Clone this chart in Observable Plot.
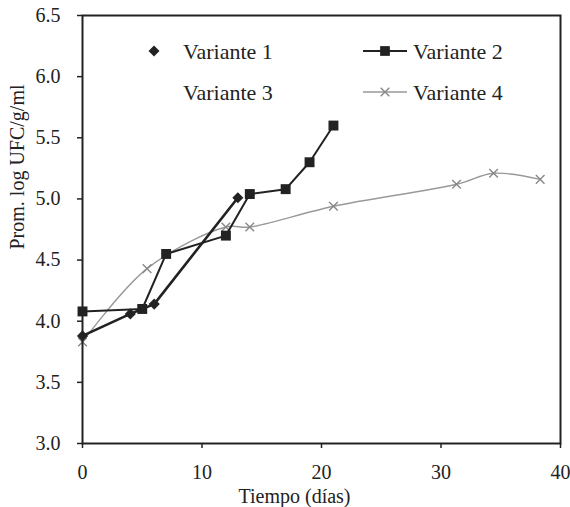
<!DOCTYPE html>
<html>
<head>
<meta charset="utf-8">
<script src="https://cdn.jsdelivr.net/npm/d3@7"></script>
<script src="https://cdn.jsdelivr.net/npm/@observablehq/plot@0.6"></script>
<style>
  body { margin: 0; background: #fff; }
  #wrap { position: relative; width: 570px; height: 507px; font-family: "Liberation Serif", serif; }
  #wrap svg, #wrap svg text { font-family: "Liberation Serif", serif !important; }
  #legend { position: absolute; left: 0; top: 0; }
</style>
</head>
<body>
<div id="wrap"></div>
<script>
// ---- data ----
const seriesNames = ["Variante 1", "Variante 2", "Variante 3", "Variante 4"];
const v1Days = [0, 4, 6, 13];
const v1Vals = [3.88, 4.06, 4.14, 5.01];
const v2Days = [0, 5, 7, 12, 14, 17, 19, 21];
const v2Vals = [4.08, 4.10, 4.55, 4.70, 5.04, 5.08, 5.30, 5.60];
const v4Days = [0, 5.4, 12, 14, 21, 31.3, 34.4, 38.3];
const v4Vals = [3.83, 4.43, 4.77, 4.77, 4.94, 5.12, 5.21, 5.16];
const xTicks = [0, 10, 20, 30, 40];
const yTicks = [3.0, 3.5, 4.0, 4.5, 5.0, 5.5, 6.0, 6.5];
const xLabel = "Tiempo (días)";
const yLabel = "Prom. log UFC/g/ml";

const toRows = (days, vals) => days.map((d, i) => ({x: d, y: vals[i]}));
const v1 = toRows(v1Days, v1Vals);
const v2 = toRows(v2Days, v2Vals);
const v4 = toRows(v4Days, v4Vals);

const font = "Liberation Serif";

const chart = Plot.plot({
  width: 570,
  height: 507,
  marginLeft: 82,
  marginRight: 10,
  marginTop: 15,
  marginBottom: 64,
  style: {fontFamily: font, fontSize: "20px", color: "#222", background: "#fff"},
  x: {domain: [0, 40]},
  y: {domain: [3, 6.5]},
  marks: [
    Plot.axisX({ticks: xTicks, tickSize: 5, tickPadding: 16, label: null, stroke: "#222", strokeWidth: 1.5, fontSize: 20}),
    Plot.axisY({ticks: yTicks, tickSize: 5, tickPadding: 17, tickFormat: d3.format(".1f"), label: null, stroke: "#222", strokeWidth: 1.5, fontSize: 20}),
    Plot.line(v4, {x: "x", y: "y", stroke: "#999", strokeWidth: 1.4, curve: "catmull-rom"}),
    Plot.dot(v4, {x: "x", y: "y", symbol: "times", r: 4, stroke: "#888", strokeWidth: 1.4}),
    Plot.line(v2, {x: "x", y: "y", stroke: "#222", strokeWidth: 2}),
    Plot.dot(v2, {x: "x", y: "y", symbol: "square", r: 5.6, fill: "#222"}),
    Plot.line(v1, {x: "x", y: "y", stroke: "#222", strokeWidth: 2.6}),
    Plot.dot(v1, {x: "x", y: "y", symbol: "diamond2", r: 5, fill: "#222"}),
    Plot.frame({stroke: "#222", strokeWidth: 2}),
    Plot.text([xLabel], {frameAnchor: "bottom", dx: -27, dy: 53, lineAnchor: "middle", fontSize: 20, fill: "#222"}),
    Plot.text([yLabel], {frameAnchor: "left", dx: -65, dy: 20, rotate: -90, lineAnchor: "middle", fontSize: 20, fill: "#222"})
  ]
});
document.getElementById("wrap").appendChild(chart);

// ---- legend overlay (inside the plot frame, as in the reference) ----
const legendLayout = [
  {name: seriesNames[0], tx: 183, ty: 51, sym: "diamond", mx: 154, line: false},
  {name: seriesNames[1], tx: 413, ty: 51, sym: "square", mx: 385, line: true, stroke: "#222", sw: 2},
  {name: seriesNames[2], tx: 183, ty: 92, sym: null},
  {name: seriesNames[3], tx: 413, ty: 92, sym: "times", mx: 385, line: true, stroke: "#999", sw: 1.4}
];
const svg = d3.select("#wrap").append("svg")
  .attr("id", "legend").attr("width", 570).attr("height", 507)
  .style("pointer-events", "none");
for (const e of legendLayout) {
  if (e.line) {
    svg.append("line").attr("x1", e.mx - 22).attr("x2", e.mx + 22).attr("y1", e.ty).attr("y2", e.ty)
      .attr("stroke", e.stroke).attr("stroke-width", e.sw);
  }
  if (e.sym === "diamond") {
    svg.append("path").attr("transform", `translate(${e.mx},${e.ty})`)
      .attr("d", d3.symbol(d3.symbolDiamond2, 78)()).attr("fill", "#222");
  } else if (e.sym === "square") {
    svg.append("path").attr("transform", `translate(${e.mx},${e.ty})`)
      .attr("d", d3.symbol(d3.symbolSquare, 95)()).attr("fill", "#222");
  } else if (e.sym === "times") {
    svg.append("path").attr("transform", `translate(${e.mx},${e.ty})`)
      .attr("d", d3.symbol(d3.symbolTimes, 50)()).attr("fill", "none").attr("stroke", "#888").attr("stroke-width", 1.4);
  }
  svg.append("text").attr("x", e.tx).attr("y", e.ty).attr("dy", "0.35em")
    .style("font-family", font).attr("font-size", 22).attr("fill", "#222").text(e.name);
}
</script>
</body>
</html>
